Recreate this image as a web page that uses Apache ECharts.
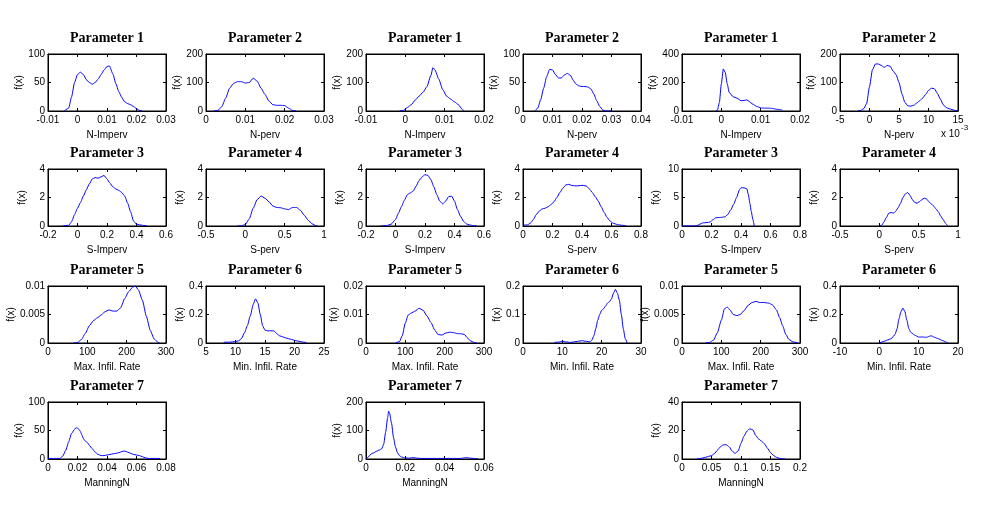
<!DOCTYPE html>
<html>
<head>
<meta charset="utf-8">
<script src="https://cdn.jsdelivr.net/npm/echarts@6/dist/echarts.min.js"></script>
<style>
  html, body { margin: 0; background: #fff; }
  #main { width: 996px; height: 530px; }
</style>
</head>
<body>
<div id="main"></div>
<script>
// density curves, [x, f(x)]
const nImperv1 = [[-0.0045,0],[-0.003,5],[-0.002,25],[-0.001,50],[0,64],[0.001,68],[0.002,64],[0.003,55],[0.004,50],[0.005,47],[0.006,50],[0.007,56],[0.008,64],[0.009,72],[0.010,78],[0.0108,79],[0.012,65],[0.013,48],[0.014,34],[0.015,24],[0.016,16],[0.017,13],[0.018,11],[0.019,8],[0.020,4],[0.021,1],[0.022,0]];
const nPerv1 = [[0.002,0],[0.003,2],[0.004,15],[0.005,45],[0.006,80],[0.007,97],[0.008,103],[0.009,103],[0.010,98],[0.011,100],[0.012,115],[0.013,105],[0.014,80],[0.015,58],[0.016,35],[0.017,22],[0.018,20],[0.019,20],[0.020,19],[0.021,10],[0.022,2],[0.023,0]];
const nImperv2 = [[-0.0015,0],[-0.0005,2],[0.0005,12],[0.0015,22],[0.0025,38],[0.0035,52],[0.0045,66],[0.0055,86],[0.0065,125],[0.007,152],[0.0075,145],[0.0085,112],[0.0095,75],[0.0105,52],[0.0115,42],[0.0125,32],[0.0135,22],[0.0145,5],[0.015,0]];
const nPerv2 = [[0.004,0],[0.005,5],[0.006,20],[0.007,40],[0.008,60],[0.009,73],[0.010,72],[0.011,64],[0.012,58],[0.013,58],[0.014,63],[0.015,66],[0.016,63],[0.017,54],[0.018,47],[0.019,44],[0.020,43],[0.021,43],[0.022,42],[0.023,39],[0.024,30],[0.025,18],[0.026,8],[0.027,2],[0.028,0],[0.030,0]];
const nImperv3 = [[-0.0015,0],[-0.001,5],[-0.0005,60],[0,190],[0.0005,295],[0.001,270],[0.0015,190],[0.002,130],[0.003,100],[0.004,90],[0.005,72],[0.006,75],[0.0065,78],[0.007,68],[0.008,48],[0.009,32],[0.010,22],[0.011,20],[0.012,20],[0.013,18],[0.014,12],[0.015,10],[0.0155,6]];
const nPerv3 = [[-2,0],[-1.5,2],[-1,8],[-0.5,25],[0,85],[0.5,145],[1,165],[1.5,165],[2,160],[2.5,153],[3,160],[3.5,157],[4,140],[4.5,128],[5,100],[5.5,60],[6,30],[6.5,18],[7,17],[7.5,20],[8,28],[8.5,36],[9,45],[9.5,58],[10,72],[10.5,80],[11,78],[11.5,62],[12,42],[12.5,22],[13,12],[13.5,8],[14,5],[14.5,2],[15,0]];

const sImperv1 = [[-0.1,0],[-0.06,0.05],[-0.04,0.3],[-0.02,0.8],[0,1.25],[0.02,1.65],[0.04,2.1],[0.06,2.55],[0.08,2.95],[0.1,3.3],[0.12,3.4],[0.14,3.35],[0.16,3.45],[0.18,3.55],[0.2,3.3],[0.22,3.0],[0.24,2.75],[0.26,2.6],[0.28,2.5],[0.30,2.35],[0.32,2.1],[0.34,1.6],[0.36,1.0],[0.38,0.35],[0.40,0.12],[0.44,0.05],[0.47,0]];
const sPerv1 = [[-0.1,0],[-0.05,0.02],[0,0.1],[0.05,0.5],[0.1,1.25],[0.15,1.85],[0.2,2.1],[0.25,1.95],[0.3,1.7],[0.35,1.4],[0.4,1.3],[0.45,1.28],[0.5,1.2],[0.55,1.15],[0.6,1.3],[0.65,1.3],[0.7,1.1],[0.75,0.75],[0.8,0.4],[0.85,0.15],[0.9,0.02],[0.92,0]];
const sImperv2 = [[-0.1,0],[-0.06,0.03],[-0.03,0.12],[0,0.45],[0.02,0.9],[0.04,1.35],[0.06,1.8],[0.08,2.2],[0.1,2.32],[0.12,2.45],[0.14,2.8],[0.16,3.2],[0.18,3.45],[0.2,3.6],[0.22,3.55],[0.24,3.25],[0.26,2.75],[0.28,2.2],[0.30,1.75],[0.32,1.55],[0.34,1.75],[0.36,2.05],[0.38,2.1],[0.40,1.75],[0.42,1.15],[0.44,0.7],[0.46,0.35],[0.48,0.15],[0.50,0.08],[0.53,0.02],[0.55,0]];
const sPerv2 = [[0,0.05],[0.03,0.08],[0.05,0.2],[0.07,0.45],[0.09,0.8],[0.11,1.05],[0.13,1.2],[0.15,1.25],[0.17,1.35],[0.19,1.5],[0.21,1.7],[0.23,2.0],[0.25,2.35],[0.27,2.65],[0.29,2.88],[0.31,2.92],[0.33,2.85],[0.35,2.82],[0.37,2.82],[0.39,2.84],[0.41,2.85],[0.43,2.8],[0.45,2.6],[0.47,2.35],[0.49,2.05],[0.51,1.75],[0.53,1.35],[0.55,0.95],[0.57,0.6],[0.59,0.35],[0.61,0.2],[0.64,0.1],[0.67,0.05],[0.70,0.02]];
const sImperv3 = [[0,0],[0.08,0],[0.1,0.05],[0.12,0.3],[0.14,0.55],[0.17,0.6],[0.19,0.7],[0.21,1.1],[0.23,1.45],[0.26,1.5],[0.29,1.6],[0.31,2.0],[0.33,2.8],[0.35,3.8],[0.37,5.0],[0.39,6.4],[0.40,6.7],[0.42,6.7],[0.44,6.5],[0.45,5.5],[0.46,4.0],[0.47,2.5],[0.48,1.2],[0.49,0]];
const sPerv3 = [[0,0],[0.03,0.05],[0.06,0.3],[0.09,0.6],[0.12,0.9],[0.15,0.95],[0.18,0.9],[0.21,1.05],[0.24,1.3],[0.27,1.6],[0.30,2.0],[0.33,2.25],[0.36,2.35],[0.39,2.15],[0.42,1.85],[0.45,1.65],[0.48,1.6],[0.51,1.7],[0.54,1.85],[0.57,1.95],[0.60,1.9],[0.63,1.7],[0.66,1.55],[0.69,1.4],[0.72,1.2],[0.75,1.0],[0.78,0.7],[0.81,0.45],[0.84,0.2],[0.87,0]];

const maxRate1 = [[65,0],[75,0.0001],[85,0.0006],[95,0.0017],[105,0.0030],[115,0.0039],[125,0.0044],[135,0.0049],[145,0.0055],[155,0.0058],[165,0.0056],[175,0.0056],[185,0.0062],[195,0.0078],[205,0.0090],[215,0.0098],[222,0.0100],[230,0.0093],[240,0.0075],[250,0.0047],[260,0.0022],[270,0.0007],[280,0.0001],[285,0]];
const minRate1 = [[8,0.005],[9,0.006],[10,0.01],[10.5,0.015],[11,0.03],[11.5,0.07],[12,0.12],[12.5,0.19],[13,0.27],[13.4,0.31],[13.8,0.28],[14.2,0.2],[14.6,0.12],[15,0.09],[15.5,0.085],[16,0.086],[16.5,0.085],[17,0.065],[17.5,0.05],[18,0.043],[18.5,0.036],[19,0.03],[19.5,0.025],[20,0.018],[20.5,0.014],[21,0.01],[21.5,0.006],[22,0.003]];
const maxRate2 = [[75,0],[85,0.0005],[92,0.0025],[100,0.007],[107,0.0098],[115,0.0105],[125,0.0112],[135,0.0122],[145,0.0115],[155,0.0095],[165,0.0072],[175,0.0045],[183,0.003],[193,0.0028],[203,0.0035],[213,0.0038],[223,0.0036],[233,0.0033],[243,0.0032],[250,0.003],[258,0.0018],[265,0.0008],[275,0.0002],[282,0]];
const minRate2 = [[8,0.002],[9,0.003],[10,0.006],[11,0.004],[12,0.002],[13,0.004],[14,0.006],[15,0.008],[16,0.006],[17,0.004],[17.5,0.01],[18,0.025],[18.5,0.05],[19,0.08],[19.5,0.1],[20,0.115],[20.5,0.12],[21,0.13],[21.5,0.14],[22,0.145],[22.5,0.155],[23,0.175],[23.5,0.188],[24,0.175],[24.5,0.15],[25,0.1],[25.5,0.05],[26,0.015],[26.5,0]];
const maxRate3 = [[60,0],[70,0.0001],[80,0.0005],[90,0.0018],[100,0.004],[108,0.006],[115,0.0063],[122,0.0058],[130,0.005],[140,0.0048],[148,0.005],[158,0.0057],[168,0.0066],[178,0.0071],[188,0.0073],[198,0.0071],[208,0.0071],[220,0.007],[230,0.0067],[240,0.0058],[248,0.0045],[256,0.003],[264,0.0015],[272,0.0006],[282,0.0002],[295,0]];
const minRate3 = [[0,0],[1,0.01],[2,0.02],[3,0.03],[4,0.06],[4.5,0.1],[5,0.17],[5.5,0.22],[6,0.245],[6.5,0.22],[7,0.16],[7.5,0.1],[8,0.075],[8.5,0.065],[9,0.055],[10,0.042],[11,0.042],[12,0.04],[13,0.05],[13.5,0.048],[14,0.04],[15,0.03],[16,0.018],[17,0.006],[17.5,0]];

const manning1 = [[0,1],[0.005,1],[0.008,1],[0.01,5],[0.012,15],[0.014,30],[0.016,45],[0.018,52],[0.019,55],[0.020,54],[0.021,52],[0.022,48],[0.023,42],[0.024,36],[0.025,32],[0.026,30],[0.027,28],[0.028,24],[0.030,18],[0.032,12],[0.034,8],[0.036,6],[0.038,6],[0.040,7],[0.042,8],[0.044,9],[0.046,10],[0.048,11],[0.050,13],[0.052,14],[0.054,12],[0.056,10],[0.058,8],[0.060,7],[0.062,6],[0.064,4],[0.066,2],[0.068,1],[0.072,1],[0.076,1]];
const manning2 = [[0,2],[0.001,6],[0.002,14],[0.003,19],[0.004,22],[0.005,26],[0.006,29],[0.007,32],[0.008,36],[0.009,52],[0.010,95],[0.011,145],[0.0115,168],[0.012,160],[0.013,125],[0.014,75],[0.015,42],[0.016,22],[0.017,12],[0.018,7],[0.020,4],[0.022,3],[0.024,5],[0.026,3],[0.028,2],[0.032,2],[0.036,2],[0.040,2],[0.044,2],[0.048,2],[0.050,4],[0.051,5],[0.053,3],[0.055,2],[0.057,1]];
const manning3 = [[0.025,0],[0.03,0.3],[0.035,0.7],[0.04,1.2],[0.045,1.8],[0.05,2.4],[0.055,3.8],[0.06,6.2],[0.065,8.5],[0.07,10],[0.075,10],[0.08,8.5],[0.085,5.5],[0.09,4],[0.095,5.5],[0.10,11],[0.105,16],[0.11,19.5],[0.115,21.2],[0.12,20.5],[0.125,16.5],[0.13,14],[0.135,12.5],[0.14,10.5],[0.145,7.5],[0.15,4.5],[0.155,2.5],[0.16,1.2],[0.165,0.5],[0.17,0.1],[0.175,0]];

const curves = [nImperv1, nPerv1, nImperv2, nPerv2, nImperv3, nPerv3,
  sImperv1, sPerv1, sImperv2, sPerv2, sImperv3, sPerv3,
  maxRate1, minRate1, maxRate2, minRate2, maxRate3, minRate3,
  manning1, manning2, manning3];
const titles = ['Parameter 1','Parameter 2','Parameter 1','Parameter 2','Parameter 1','Parameter 2',
  'Parameter 3','Parameter 4','Parameter 3','Parameter 4','Parameter 3','Parameter 4',
  'Parameter 5','Parameter 6','Parameter 5','Parameter 6','Parameter 5','Parameter 6',
  'Parameter 7','Parameter 7','Parameter 7'];
const xNames = ['N-Imperv','N-perv','N-Imperv','N-perv','N-Imperv','N-perv',
  'S-Imperv','S-perv','S-Imperv','S-perv','S-Imperv','S-perv',
  'Max. Infil. Rate','Min. Infil. Rate','Max. Infil. Rate','Min. Infil. Rate','Max. Infil. Rate','Min. Infil. Rate',
  'ManningN','ManningN','ManningN'];
// [min, max, interval]
const xTicks = [[-0.01,0.03,0.01],[0,0.03,0.01],[-0.01,0.02,0.01],[0,0.04,0.01],[-0.01,0.02,0.01],[-5,15,5],
  [-0.2,0.6,0.2],[-0.5,1,0.5],[-0.2,0.6,0.2],[0,0.8,0.2],[0,0.8,0.2],[-0.5,1,0.5],
  [0,300,100],[5,25,5],[0,300,100],[0,30,10],[0,300,100],[-10,20,10],
  [0,0.08,0.02],[0,0.06,0.02],[0,0.2,0.05]];
const yTicks = [[0,100,50],[0,200,100],[0,200,100],[0,100,50],[0,400,200],[0,200,100],
  [0,4,2],[0,4,2],[0,4,2],[0,4,2],[0,10,5],[0,4,2],
  [0,0.01,0.005],[0,0.4,0.2],[0,0.02,0.01],[0,0.2,0.1],[0,0.01,0.005],[0,0.4,0.2],
  [0,100,50],[0,200,100],[0,40,20]];

// subplot layout
const colLeft = [48, 206, 366, 523, 682, 840];
const rowTop = [54, 169, 286, 402];
const boxW = 118, boxH = 57;
const slots = [];
for (let r = 0; r < 3; r++) for (let c = 0; c < 6; c++) slots.push([r, c]);
slots.push([3, 0], [3, 2], [3, 4]);

const fmt = v => String(+v.toFixed(6));
const labelFont = { color: '#000', fontSize: 10, fontFamily: 'Liberation Sans' };
const axisLine = { onZero: false, lineStyle: { color: '#000' } };
const axisTick = { inside: true, length: 3, lineStyle: { color: '#000' } };
const n = curves.length;
const grid = [], xAxis = [], yAxis = [], series = [], title = [];

for (let i = 0; i < n; i++) {
  const [r, c] = slots[i];
  const left = colLeft[c], top = rowTop[r];
  grid.push({ left, top, width: boxW, height: boxH, show: true, borderColor: '#000', borderWidth: 1, backgroundColor: '#fff' });
  title.push({ text: titles[i], left: left + boxW / 2, top: top - 23, textAlign: 'center', padding: 0,
    textStyle: { fontFamily: 'Liberation Serif', fontWeight: 'bold', fontSize: 14, color: '#000' } });
  xAxis.push({ type: 'value', gridIndex: i, min: xTicks[i][0], max: xTicks[i][1], interval: xTicks[i][2],
    name: xNames[i], nameLocation: 'middle', nameGap: 19, nameTextStyle: labelFont,
    axisLine, axisTick,
    axisLabel: Object.assign({ margin: 4, formatter: fmt }, labelFont), splitLine: { show: false } });
  yAxis.push({ type: 'value', gridIndex: i, min: yTicks[i][0], max: yTicks[i][1], interval: yTicks[i][2],
    name: 'f(x)', nameLocation: 'middle', nameGap: 21, nameTextStyle: labelFont,
    axisLine, axisTick,
    axisLabel: Object.assign({ margin: 3, formatter: fmt }, labelFont), splitLine: { show: false } });
  series.push({ type: 'line', xAxisIndex: i, yAxisIndex: i, data: curves[i], showSymbol: false, symbol: 'none',
    smooth: 0.2, smoothMonotone: 'x', lineStyle: { color: '#0000ff', width: 1 } });
}
// mirrored ticks on top and right, MATLAB box style
for (let i = 0; i < n; i++) {
  xAxis.push({ type: 'value', gridIndex: i, position: 'top', min: xTicks[i][0], max: xTicks[i][1], interval: xTicks[i][2],
    axisLine, axisTick, axisLabel: { show: false }, splitLine: { show: false } });
  yAxis.push({ type: 'value', gridIndex: i, position: 'right', min: yTicks[i][0], max: yTicks[i][1], interval: yTicks[i][2],
    axisLine, axisTick, axisLabel: { show: false }, splitLine: { show: false } });
}

const chart = echarts.init(document.getElementById('main'));
chart.setOption({
  animation: false,
  backgroundColor: '#fff',
  title, grid, xAxis, yAxis, series,
  graphic: [
    { type: 'text', left: 941, top: 129, style: { text: 'x 10', font: '10px Liberation Sans', fill: '#000' } },
    { type: 'text', left: 961, top: 124, style: { text: '-3', font: '8px Liberation Sans', fill: '#000' } }
  ]
});
</script>
</body>
</html>
